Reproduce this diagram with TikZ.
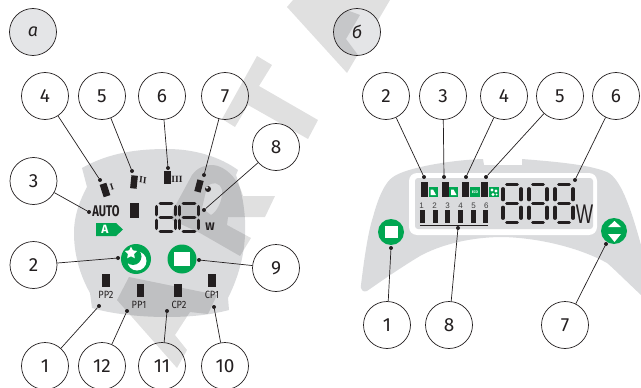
\documentclass[tikz,border=0pt]{standalone}
\usepackage{fontspec}
\setmainfont{Fira Sans}
\newfontfamily\labelfont{Liberation Sans}
\newfontfamily\romanfont{Liberation Serif}
\usetikzlibrary{shapes.geometric}
\definecolor{panelgray}{HTML}{DADBDD}
\definecolor{tagfill}{HTML}{E4E5E7}
\definecolor{darkmark}{HTML}{C6C7C9}
\definecolor{ledgreen}{HTML}{00A651}
\definecolor{inkblack}{HTML}{231F20}
\tikzset{
    numnode/.style={circle, draw=inkblack, line width=0.7pt, minimum size=47pt, inner sep=0pt, font=\fontsize{19}{20}\selectfont, text=inkblack},
    tagnode/.style={numnode, font=\fontsize{18}{20}\selectfont\itshape},
    dotnode/.style={circle, fill=inkblack, inner sep=0pt, minimum size=4pt},
    leader/.style={draw=inkblack, line width=0.7pt},
    barnode/.style={fill=inkblack, inner sep=0pt},
    pumplabel/.style={inner sep=0pt, text=inkblack, xscale=0.88, font=\fontsize{10.5}{11}\selectfont},
    romanlabel/.style={inner sep=0pt, text=inkblack, font=\fontsize{9.5}{10}\selectfont\bfseries\romanfont},
    scalenum/.style={inner sep=0pt, text=darkgray, font=\fontsize{8}{8}\selectfont\labelfont},
    water/.style={fill=black, fill opacity=0.12},
    seg/.style={draw=inkblack, line cap=round}
}
% one seven-segment digit: x, y, width, height, thickness
\newcommand{\segdigit}[5]{
    \draw[seg, line width=#5pt] (#1+#3*0.2,#2) -- (#1+#3*0.8,#2);
    \draw[seg, line width=#5pt] (#1+#3*0.2,#2+#4*0.5) -- (#1+#3*0.8,#2+#4*0.5);
    \draw[seg, line width=#5pt] (#1+#3*0.2,#2+#4) -- (#1+#3*0.8,#2+#4);
    \draw[seg, line width=#5pt] (#1,#2+#4*0.11) -- (#1,#2+#4*0.40);
    \draw[seg, line width=#5pt] (#1+#3,#2+#4*0.11) -- (#1+#3,#2+#4*0.40);
    \draw[seg, line width=#5pt] (#1,#2+#4*0.60) -- (#1,#2+#4*0.89);
    \draw[seg, line width=#5pt] (#1+#3,#2+#4*0.60) -- (#1+#3,#2+#4*0.89);
}
\begin{document}
\begin{tikzpicture}[x=1pt, y=-1pt]
    \useasboundingbox (0,0) rectangle (641,388);

    % Panels
    \fill[panelgray] (82,168) .. controls (110,152) and (140,149) .. (167,149)
        .. controls (195,149) and (220,157) .. (238,170) -- (236,175)
        .. controls (243,195) and (246,215) .. (245,235)
        .. controls (244,260) and (236,282) .. (228,298) -- (229,310)
        .. controls (210,315) and (190,317) .. (167,317)
        .. controls (140,317) and (112,314) .. (92,308) -- (90,293)
        .. controls (80,275) and (74,255) .. (74,233)
        .. controls (74,215) and (80,200) .. (87,187) -- cycle;
    \fill[panelgray] (483,159) -- (484,165) -- (522,165) -- (522,159)
        .. controls (560,162) and (590,165) .. (607,172)
        .. controls (620,178) and (630,205) .. (641,245) -- (641,295)
        .. controls (625,280) and (612,267) .. (607,263)
        .. controls (580,248) and (540,238) .. (503,237)
        .. controls (470,237) and (440,245) .. (420,256)
        .. controls (400,268) and (380,282) .. (367,291)
        .. controls (363,293) and (360,289) .. (361,285)
        .. controls (364,260) and (368,232) .. (373,217)
        .. controls (378,198) and (385,182) .. (393,177)
        .. controls (405,168) and (450,160) .. (483,159) -- cycle;

    % Tag circles
    \fill[tagfill] (33,32) circle (23.5);

    % Watermark
    \fill[water] (287,7) -- (293,0) -- (390,0) -- (347,73) -- cycle
        (313,5) -- (360,15) -- (335,27) -- cycle;
    \fill[tagfill] (357,32) circle (23.5);
    \begin{scope}
        \clip (357,32) circle (23.5);
        \fill[darkmark] (320,0) -- (360,15) -- (346,39) -- (358,55) -- (340,75) -- (320,50) -- cycle;
    \end{scope}
    \fill[water] (257,56) -- (272,65) -- (259,86) -- (318,120) -- (308,139)
        -- (248,105) -- (235,127) -- (222,119) -- cycle;
    \fill[water, even odd rule] (173,210) -- (192,175) .. controls (198,167) and (205,165) .. (213,165)
        .. controls (225,166) and (238,178) .. (243,196) -- (275,196) -- (265,217) -- (228,217)
        -- (227,225) -- (251,238) -- (240,256) -- (200,233) -- (172,220) -- cycle
        (207,187) .. controls (212,181) and (220,182) .. (222,190)
        .. controls (223,200) and (217,212) .. (211,215) -- (202,208) -- cycle;
    \fill[water] (129,277) -- (217,295) -- (208,314) -- (190,312) -- (175,335)
        -- (187,350) -- (177,368) -- (117,300) -- cycle;

    % Display window
    \fill[white, rounded corners=8pt] (409,173) rectangle (597,235);
    \fill[panelgray, rounded corners=3pt] (415,178) rectangle (593,229);

    % Left panel items
    \node[barnode, minimum width=7pt, minimum height=13pt, rotate=18] (barI) at (105,190) {};
    \node[romanlabel, rotate=18] (txtI) at (112,187) {I};
    \node[barnode, minimum width=6.5pt, minimum height=13pt, rotate=-6] (barII) at (134,182) {};
    \node[romanlabel, rotate=-6] (txtII) at (143,180) {II};
    \node[barnode, minimum width=7pt, minimum height=13pt] (barIII) at (167,177) {};
    \node[romanlabel] (txtIII) at (177,179) {III};
    \node[barnode, minimum width=6.5pt, minimum height=12pt, rotate=-15] (barNight) at (199,186) {};
    \fill[inkblack] (208,189) circle (3);
    \fill[panelgray] (207,187.5) circle (1.3);
    \node[barnode, minimum width=9pt, minimum height=15pt] (barAuto) at (134.5,210.5) {};
    \node[inner sep=0pt, text=inkblack, xscale=0.72, font=\fontsize{15.5}{16}\selectfont\bfseries] (auto) at (106,211) {AUTO};
    \fill[ledgreen] (96,223) -- (116,223) -- (123,229.5) -- (116,236) -- (96,236) -- cycle;
    \node[inner sep=0pt, text=white, font=\fontsize{12}{12}\selectfont\bfseries] (classA) at (105,229.5) {A};
    \segdigit{156.5}{203.5}{19}{28}{3.6}
    \segdigit{179.5}{203.5}{19}{28}{3.6}
    \node[inner sep=0pt, text=inkblack, font=\fontsize{11}{11}\selectfont\bfseries] (wattL) at (210,227) {W};

    % Left buttons
    \fill[ledgreen] (136,259) circle (15);
    \fill[white] (137,261) circle (9.5);
    \fill[ledgreen] (133,256.5) circle (8.5);
    \node[star, star points=5, star point ratio=2, fill=white, inner sep=0pt, minimum size=13pt] (starL) at (131,253) {};
    \fill[ledgreen] (182,259) circle (14.5);
    \node[fill=white, inner sep=0pt, minimum width=15.5pt, minimum height=14pt] (stopL) at (182,259) {};

    % Pump modes
    \node[barnode, minimum width=8pt, minimum height=13pt] (barPPb) at (106,280.5) {};
    \node[barnode, minimum width=7.5pt, minimum height=13pt] (barPPa) at (140.5,290.5) {};
    \node[barnode, minimum width=7.5pt, minimum height=13pt] (barCPb) at (178,290.5) {};
    \node[barnode, minimum width=7.5pt, minimum height=13pt] (barCPa) at (212,280.5) {};
    \node[pumplabel] (txtPPb) at (106,295) {PP2};
    \node[pumplabel] (txtPPa) at (139,305) {PP1};
    \node[pumplabel] (txtCPb) at (179,305) {CP2};
    \node[pumplabel] (txtCPa) at (212,295) {CP1};

    % Display items
    \node[barnode, minimum width=7pt, minimum height=15pt] (modeA) at (424.5,189.5) {};
    \node[barnode, minimum width=7pt, minimum height=15pt] (modeB) at (445,189.5) {};
    \node[barnode, minimum width=7pt, minimum height=15pt] (modeC) at (465.5,189.5) {};
    \node[barnode, minimum width=7pt, minimum height=15pt] (modeD) at (484.5,189.5) {};
    \fill[ledgreen] (428.5,187) rectangle (438,197);
    \fill[white] (430.5,195) -- (430.5,189.5) -- (433,189.5) -- (436,195) -- cycle;
    \fill[ledgreen] (449,187) rectangle (458,197);
    \fill[white] (451,195) -- (451,189.5) -- (453.5,189.5) -- (456.5,195) -- cycle;
    \fill[ledgreen] (470,187) rectangle (480,197);
    \node[inner sep=0pt, text=white, font=\fontsize{3.6}{4}\selectfont\bfseries] (eco) at (475,192) {ECO};
    \fill[ledgreen] (489,187) rectangle (499,197);
    \fill[white] (492,190) circle (1.6) (496,191) circle (1.6) (493,194.5) circle (1.6) (496.5,194.5) circle (1);

    \node[scalenum] (n1) at (421.7,206) {1};
    \node[scalenum] (n2) at (434.7,206) {2};
    \node[scalenum] (n3) at (447.7,206) {3};
    \node[scalenum] (n4) at (460.7,206) {4};
    \node[scalenum] (n5) at (473.7,206) {5};
    \node[scalenum] (n6) at (486.3,206) {6};
    \node[barnode, minimum width=5pt, minimum height=13pt] (lvl1) at (422,216.5) {};
    \node[barnode, minimum width=5pt, minimum height=13pt] (lvl2) at (435.5,216.5) {};
    \node[barnode, minimum width=5pt, minimum height=13pt] (lvl3) at (447.5,216.5) {};
    \node[barnode, minimum width=5pt, minimum height=13pt] (lvl4) at (460.5,216.5) {};
    \node[barnode, minimum width=5pt, minimum height=13pt] (lvl5) at (473.5,216.5) {};
    \node[barnode, minimum width=5pt, minimum height=13pt] (lvl6) at (485.5,216.5) {};
    \draw[inkblack, line width=1.2pt] (420,225.5) -- (488,225.5);
    \segdigit{503}{184.5}{18}{38}{3.2}
    \segdigit{529}{184.5}{18}{38}{3.2}
    \segdigit{555}{184.5}{18}{38}{3.2}
    \node[inner sep=0pt, text=inkblack, xscale=0.68, font=\fontsize{27}{27}\selectfont\labelfont] (wattR) at (584.5,214.5) {W};

    % Right buttons
    \fill[ledgreen] (391,232) circle (13);
    \node[fill=white, inner sep=0pt, minimum width=13pt, minimum height=12pt] (stopR) at (391,232) {};
    \fill[ledgreen] (614,231) circle (13);
    \fill[white] (608,227) -- (621,227) -- (614.5,221) -- cycle;
    \fill[white] (608,234) -- (621,234) -- (614.5,242) -- cycle;

    % Nodes, left
    \node[tagnode] (a) at (33,32) {а};
    \node[numnode] (l4) at (45,96) {4};
    \node[numnode] (l5) at (102,96) {5};
    \node[numnode] (l6) at (162,96) {6};
    \node[numnode] (l7) at (225,96) {7};
    \node[numnode] (l8) at (276,147) {8};
    \node[numnode] (l3) at (33.5,181) {3};
    \node[numnode] (l2) at (33.5,265) {2};
    \node[numnode] (l9) at (276,268) {9};
    \node[numnode] (l1) at (45,366) {1};
    \node[numnode] (l12) at (102,366) {12};
    \node[numnode] (l11) at (162,366) {11};
    \node[numnode] (l10) at (225,366) {10};

    % Nodes, right
    \node[tagnode] (b) at (357,32) {б};
    \node[numnode] (r2) at (386,96) {2};
    \node[numnode] (r3) at (443,96) {3};
    \node[numnode] (r4) at (504,96) {4};
    \node[numnode] (r5) at (560,96) {5};
    \node[numnode] (r6) at (616,96) {6};
    \node[numnode] (r1) at (387,325) {1};
    \node[numnode] (r8) at (449,325) {8};
    \node[numnode] (r7) at (565,325) {7};

    % Dots
    \node[dotnode] (dl4) at (100,180) {};
    \node[dotnode] (dl5) at (132,171) {};
    \node[dotnode] (dl6) at (168,168) {};
    \node[dotnode] (dl7) at (204,175) {};
    \node[dotnode] (dl8) at (204,210) {};
    \node[dotnode] (dl3) at (89,212) {};
    \node[dotnode] (dl2) at (118,258) {};
    \node[dotnode] (dl9) at (199,260) {};
    \node[dotnode] (dl1) at (99,306) {};
    \node[dotnode] (dl12) at (127,311) {};
    \node[dotnode] (dl11) at (167,311) {};
    \node[dotnode] (dl10) at (214,307) {};
    \node[dotnode] (dr2) at (424,177) {};
    \node[dotnode] (dr3) at (444,177) {};
    \node[dotnode] (dr4) at (466,177) {};
    \node[dotnode] (dr5) at (486,177) {};
    \node[dotnode] (dr6) at (575,180) {};
    \node[dotnode] (dr8) at (458,228) {};
    \node[dotnode] (dr1) at (391,248) {};
    \node[dotnode] (dr7) at (606,244) {};

    % Edges
    \draw[leader] (l4) -- (dl4);
    \draw[leader] (l5) -- (dl5);
    \draw[leader] (l6) -- (dl6);
    \draw[leader] (l7) -- (dl7);
    \draw[leader] (l8) -- (dl8);
    \draw[leader] (l3) -- (dl3);
    \draw[leader] (l2) -- (dl2);
    \draw[leader] (l9) -- (dl9);
    \draw[leader] (l1) -- (dl1);
    \draw[leader] (l12) -- (dl12);
    \draw[leader] (l11) -- (dl11);
    \draw[leader] (l10) -- (dl10);

    \draw[leader] (r2) -- (dr2);
    \draw[leader] (r3) -- (dr3);
    \draw[leader] (r4) -- (dr4);
    \draw[leader] (r5) -- (dr5);
    \draw[leader] (r6) -- (dr6);
    \draw[leader] (r8) -- (dr8);
    \draw[leader] (r1) -- (dr1);
    \draw[leader] (r7) -- (dr7);

\end{tikzpicture}
\end{document}
